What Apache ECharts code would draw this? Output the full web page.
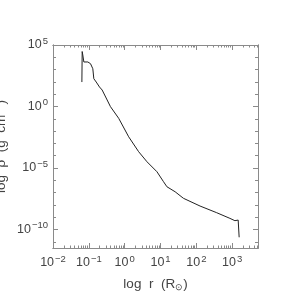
<!DOCTYPE html>
<html><head><meta charset="utf-8">
<script src="https://cdn.jsdelivr.net/npm/echarts@6/dist/echarts.min.js"></script>
<style>html,body{margin:0;padding:0;background:#fff}#c{width:294px;height:294px}</style>
</head><body><div id="c"></div>
<script>
// log10 r (R_sun)
var logR = [-1.194,-1.186,-1.169,-1.139,-1.028,-0.953,-0.889,-0.861,-0.794,-0.703,-0.628,-0.489,-0.397,-0.167,0.111,0.389,0.622,0.900,1.083,1.178,1.408,1.639,2.103,2.567,2.936,3.075,3.167,3.194,3.194];
// log10 density
var logRho = [1.99,4.47,4.19,3.62,3.62,3.48,3.07,2.26,1.99,1.59,1.34,0.53,-0.01,-0.96,-2.46,-3.67,-4.49,-5.30,-6.11,-6.52,-6.93,-7.46,-8.09,-8.63,-9.09,-9.28,-9.23,-9.11,-10.63];
var xTickExps = [-2,-1,0,1,2,3];
var yTickExps = [5,0,-5,-10];
var xMin=-2, xMax=3.72, yMin=-11.5, yMax=5;

var xMinor=[]; for(var n=-2;n<=3;n++){for(var k=1;k<=9;k++){var v=n+Math.log10(k); if(v>xMin&&v<xMax) xMinor.push(v);}}
var yMinor=[]; for(var m=Math.ceil(yMin);m<=yMax;m++) yMinor.push(m);

var FONT='Liberation Sans', COL='#444', AX='#8a8a8a';
function lab(v){var s=(v<0?'\u2212'+(-v):''+v);return '{b|10}{s|'+s+'}';}
var rich={b:{fontSize:12.5,fontFamily:FONT,color:COL},s:{fontSize:9.5,fontFamily:FONT,color:COL,padding:[0,0,8,1]}};
function xax(pos,major,showLab){
  return {type:'value',min:xMin,max:xMax,position:pos,
    axisLine:{show:true,onZero:false,lineStyle:{color:AX,width:1}},
    splitLine:{show:false},
    axisTick:{show:true,inside:true,length:major?5:2.5,customValues:major?xTickExps:xMinor,lineStyle:{color:AX}},
    axisLabel:{show:showLab,customValues:xTickExps,margin:6,formatter:lab,rich:rich},
    name:showLab?'log  r  (R{sub|\u2299})':'',nameLocation:'middle',nameGap:28,nameMoveOverlap:false,
    nameTextStyle:{fontSize:13.5,fontFamily:FONT,color:COL,rich:{sub:{fontSize:9,fontFamily:FONT,color:COL,padding:[7,0,0,0]}}}};
}
function yax(pos,major,showLab){
  return {type:'value',min:yMin,max:yMax,position:pos,
    axisLine:{show:true,onZero:false,lineStyle:{color:AX,width:1}},
    splitLine:{show:false},
    axisTick:{show:true,inside:true,length:major?5:3,customValues:major?yTickExps:yMinor,lineStyle:{color:AX}},
    axisLabel:{show:showLab,customValues:yTickExps,margin:5,formatter:lab,rich:rich},
    name:showLab?'log  \u03c1  (g  cm{sup|\u22123})':'',nameLocation:'middle',nameGap:44,nameRotate:90,nameMoveOverlap:false,
    nameTextStyle:{fontSize:13.5,fontFamily:FONT,color:COL,rich:{sup:{fontSize:9,fontFamily:FONT,color:COL,padding:[0,0,7,0]}}}};
}
var data=logR.map(function(r,i){return [r,logRho[i]];});
var chart=echarts.init(document.getElementById('c'),null,{renderer:'canvas'});
chart.setOption({
  animation:false,backgroundColor:'#fff',
  grid:{left:53,right:36,top:45,bottom:46,containLabel:false,outerBoundsMode:'none'},
  xAxis:[xax('bottom',true,true),xax('bottom',false,false),xax('top',true,false),xax('top',false,false)],
  yAxis:[yax('left',true,true),yax('left',false,false),yax('right',true,false),yax('right',false,false)],
  series:[{type:'line',xAxisIndex:0,yAxisIndex:0,data:data,showSymbol:false,symbol:'none',
    lineStyle:{color:'#222',width:1},silent:true}]
});
</script></body></html>
